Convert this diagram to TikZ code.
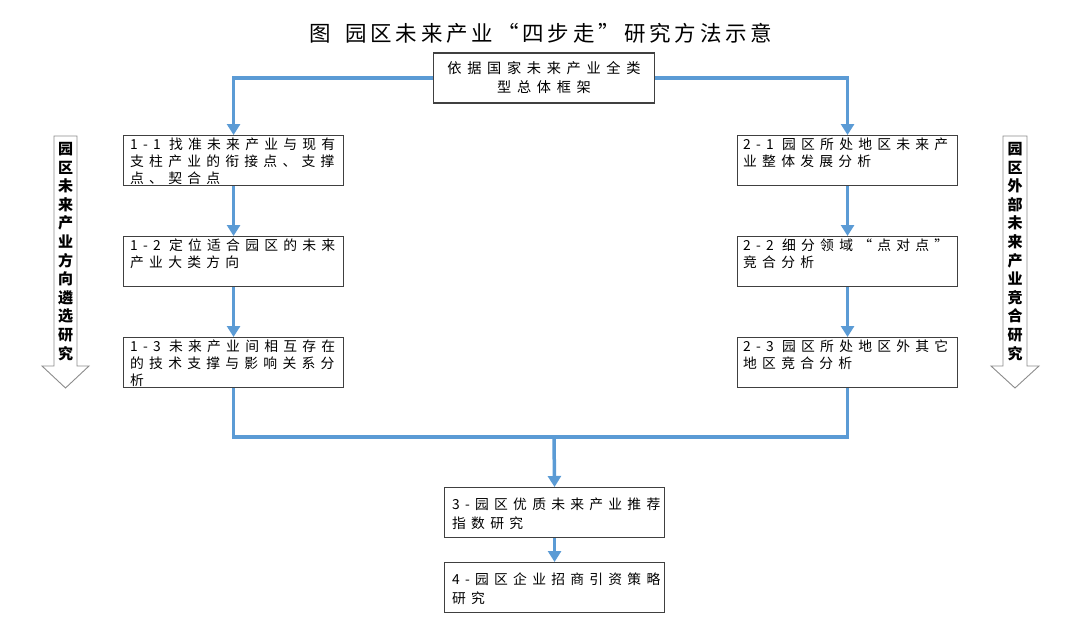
\documentclass[tikz,border=0pt]{standalone}
\usepackage{fontspec}
\usetikzlibrary{arrows.meta}
\newfontfamily\cjk[LetterSpace=38]{Noto Sans CJK SC}
\newfontfamily\cjktop[LetterSpace=40]{Noto Sans CJK SC}
\newfontfamily\cjktitle[LetterSpace=18]{Noto Sans CJK SC}
\newfontfamily\cjkside{Noto Sans CJK SC}
\definecolor{flow}{RGB}{91,155,213}
\definecolor{boxline}{RGB}{64,64,64}
\definecolor{sidegray}{RGB}{140,140,140}
\tikzset{
  box/.style={draw=boxline, line width=1.1pt, fill=white, minimum width=220pt, minimum height=50pt, inner sep=0pt, anchor=north west},
  txt/.style={anchor=north west, inner sep=0pt, align=left, font=\cjk\fontsize{13.8}{16.7}\selectfont},
  txtb/.style={anchor=north west, inner sep=0pt, align=left, font=\cjk\fontsize{13.8}{19}\selectfont},
  flowline/.style={draw=flow, line width=3.5pt},
  flowarrow/.style={flowline, -{Triangle[width=13pt,length=11pt]}},
  sidearrow/.style={draw=sidegray, line width=0.9pt, fill=white},
  sidetxt/.style={anchor=north, inner sep=0pt, align=center, font=\cjkside\bfseries\fontsize{15}{18.6}\selectfont}
}
\begin{document}
\begin{tikzpicture}[x=1pt,y=-1pt]
\useasboundingbox (0,0) rectangle (1080,626);

% title
\node[inner sep=0pt, font=\cjktitle\fontsize{21.5}{24}\selectfont] (title) at (541,33) {图\hspace{14pt}园区未来产业“四步走”研究方法示意};

% top box
\node[draw=boxline, line width=1.1pt, fill=white, minimum width=221pt, minimum height=50pt, inner sep=0pt, align=center, font=\cjktop\fontsize{14.2}{19}\selectfont] (top) at (544,78) {依据国家未来产业全类\\型总体框架};

% left column
\node[box] (b11) at (123,135) {};
\node[box] (b12) at (123,236) {};
\node[box] (b13) at (123,337) {};
\node[txt] (t11) at ([xshift=7pt,yshift=-3pt]b11.north west) {1-1 找准未来产业与现有\\支柱产业的衔接点、支撑\\点、契合点};
\node[txt] (t12) at ([xshift=7pt,yshift=-3pt]b12.north west) {1-2 定位适合园区的未来\\产业大类方向};
\node[txt] (t13) at ([xshift=7pt,yshift=-3pt]b13.north west) {1-3 未来产业间相互存在\\的技术支撑与影响关系分\\析};

% right column
\node[box] (b21) at (737,135) {};
\node[box] (b22) at (737,236) {};
\node[box] (b23) at (737,337) {};
\node[txt] (t21) at ([xshift=6pt,yshift=-3pt]b21.north west) {2-1 园区所处地区未来产\\业整体发展分析};
\node[txt] (t22) at ([xshift=6pt,yshift=-3pt]b22.north west) {2-2 细分领域“点对点”\\竞合分析};
\node[txt] (t23) at ([xshift=6pt,yshift=-3pt]b23.north west) {2-3 园区所处地区外其它\\地区竞合分析};

% bottom boxes
\node[box] (b3) at (444,487) {};
\node[box] (b4) at (444,562) {};
\node[txtb] (t3) at ([xshift=8pt,yshift=-11pt]b3.north west) {3-园区优质未来产业推荐\\指数研究};
\node[txtb] (t4) at ([xshift=8pt,yshift=-11pt]b4.north west) {4-园区企业招商引资策略\\研究};

% connectors
\coordinate (join) at (554,437);
\draw[flowarrow] (top.west) -| (b11.north);
\draw[flowarrow] (top.east) -| (b21.north);
\draw[flowarrow] (b11.south) -- (b12.north);
\draw[flowarrow] (b12.south) -- (b13.north);
\draw[flowarrow] (b21.south) -- (b22.north);
\draw[flowarrow] (b22.south) -- (b23.north);
\draw[flowline] (b13.south) |- (join) -| (b23.south);
\draw[flowarrow] (join) -- (b3.north);
\draw[flowarrow] (b3.south) -- (b4.north);

% side arrows
\draw[sidearrow] (54,136) -- (77,136) -- (77,366) -- (89,366) -- (65.5,388) -- (42,366) -- (54,366) -- cycle;
\draw[sidearrow] (1003,136) -- (1027,136) -- (1027,366) -- (1039,366) -- (1015,388) -- (991,366) -- (1003,366) -- cycle;
\node[sidetxt] (sl) at (65.5,142) {园\\区\\未\\来\\产\\业\\方\\向\\遴\\选\\研\\究};
\node[sidetxt] (sr) at (1015,142) {园\\区\\外\\部\\未\\来\\产\\业\\竞\\合\\研\\究};
\end{tikzpicture}
\end{document}
